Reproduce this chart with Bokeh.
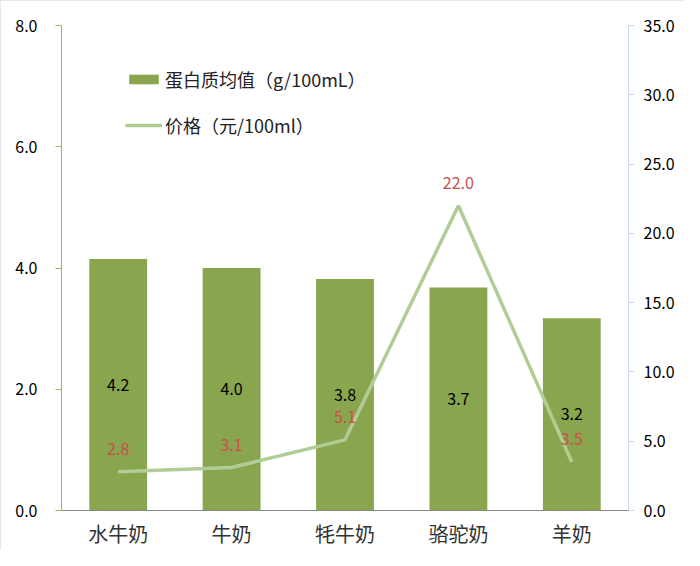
from bokeh.plotting import figure
from bokeh.models import (ColumnDataSource, Range1d, LinearAxis, FixedTicker, NumeralTickFormatter,
                          Legend, LegendItem, LabelSet)
from bokeh.core.properties import value
from bokeh.embed import file_html
from bokeh.resources import INLINE

# data
milk = ["水牛奶", "牛奶", "牦牛奶", "骆驼奶", "羊奶"]
protein = [4.15, 4.0, 3.82, 3.68, 3.17]
protein_labels = ["4.2", "4.0", "3.8", "3.7", "3.2"]
price = [2.8, 3.1, 5.1, 22.0, 3.5]
price_labels = ["2.8", "3.1", "5.1", "22.0", "3.5"]

CJK = "Noto Sans CJK SC"
BAR = "#89a54e"
LINE = "#b0cd96"

src = ColumnDataSource(dict(milk=milk, protein=protein, half=[v / 2 for v in protein],
                            plabel=protein_labels, price=price, prlabel=price_labels))

p = figure(x_range=milk, y_range=Range1d(0, 8), width=684, height=550,
           output_backend="svg", toolbar_location=None,
           min_border_left=61, min_border_right=56, min_border_top=25, min_border_bottom=39,
           styles={"outline": "3px solid #e2e2e2", "outline-offset": "-3px"})
p.outline_line_color = None
p.xgrid.grid_line_color = None
p.ygrid.grid_line_color = None
p.x_range.range_padding = 0

p.extra_y_ranges = {"price": Range1d(0, 35)}

bars = p.vbar(x="milk", top="protein", width=0.51, source=src, fill_color=BAR, line_color=None)
ln = p.line(x="milk", y="price", source=src, y_range_name="price", line_color=LINE, line_width=3.5)

p.add_layout(LabelSet(x="milk", y="half", text="plabel", source=src, text_align="center",
                      text_baseline="middle", text_font=value(CJK), text_font_size="16px",
                      text_color="#000000"))
p.add_layout(LabelSet(x="milk", y="price", y_range_name="price", text="prlabel", source=src,
                      text_align="center", text_baseline="middle", y_offset=23,
                      text_font=value(CJK), text_font_size="16px", text_color="#c9504d"))

# left axis
ya = p.yaxis[0]
ya.ticker = FixedTicker(ticks=[0, 2, 4, 6, 8])
ya.formatter = NumeralTickFormatter(format="0.0")
ya.axis_line_color = "#9bbb59"
ya.major_tick_line_color = "#9bbb59"
ya.major_tick_out = 6
ya.major_tick_in = 0
ya.minor_tick_line_color = None
ya.major_label_text_font = CJK
ya.major_label_text_font_size = "16px"
ya.major_label_text_color = "#000000"
ya.major_label_standoff = 18

# right axis
ra = LinearAxis(y_range_name="price", ticker=FixedTicker(ticks=[0, 5, 10, 15, 20, 25, 30, 35]),
                formatter=NumeralTickFormatter(format="0.0"))
ra.axis_line_color = "#c6d9f1"
ra.major_tick_line_color = "#c6d9f1"
ra.major_tick_out = 6
ra.major_tick_in = 0
ra.minor_tick_line_color = None
ra.major_label_text_font = CJK
ra.major_label_text_font_size = "16px"
ra.major_label_text_color = "#000000"
ra.major_label_standoff = 9
p.add_layout(ra, "right")

# x axis
xa = p.xaxis[0]
xa.axis_line_color = "#868686"
xa.major_tick_line_color = None
xa.major_tick_out = 0
xa.major_tick_in = 0
xa.minor_tick_line_color = None
xa.major_label_text_font = CJK
xa.major_label_text_font_size = "20px"
xa.major_label_text_color = "#333333"
xa.major_label_standoff = 8

legend = Legend(items=[LegendItem(label="蛋白质均值（g/100mL）", renderers=[bars]),
                       LegendItem(label="价格（元/100ml）", renderers=[ln])],
                location=(64, 372), background_fill_alpha=0, border_line_color=None,
                label_text_font=CJK, label_text_font_size="18px", label_text_color="#222222",
                glyph_width=37, glyph_height=12, spacing=20, label_standoff=3)
p.add_layout(legend, "center")

open("out.html", "w").write(file_html(p, INLINE))
